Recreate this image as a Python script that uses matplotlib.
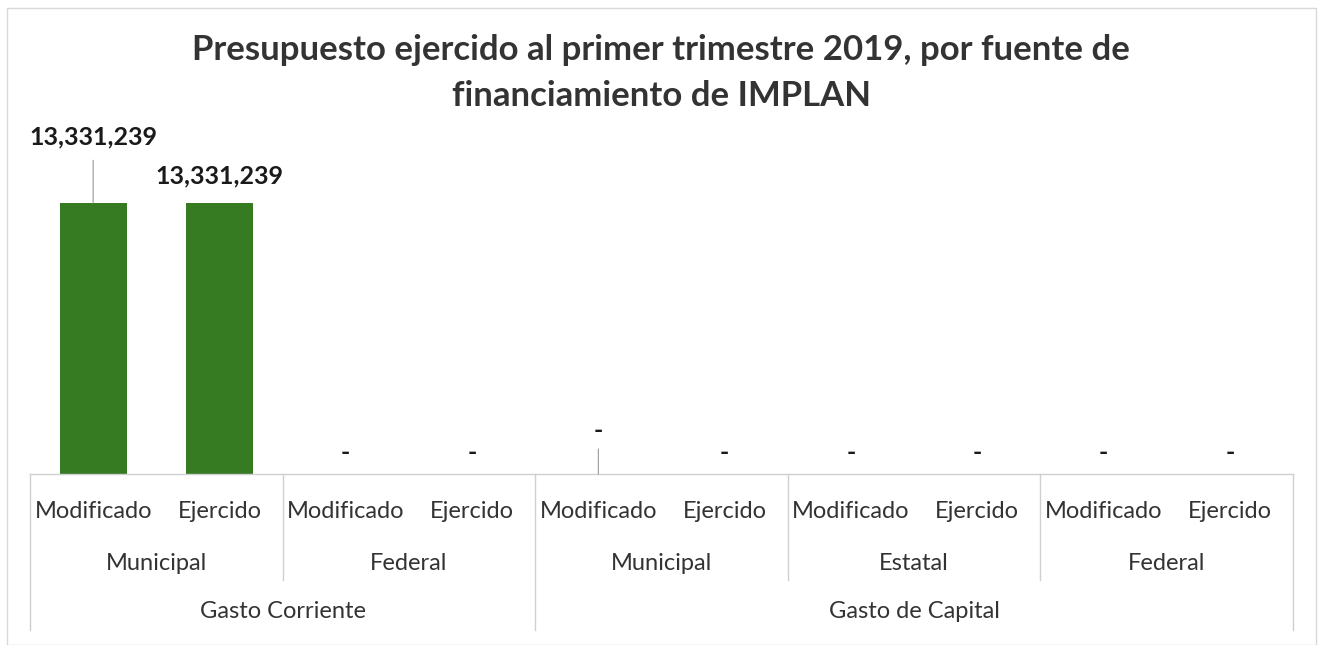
import matplotlib
matplotlib.use("Agg")
from matplotlib import pyplot as plt
from matplotlib.patches import Rectangle

# Datos del gráfico
tipos = ["Modificado", "Ejercido"] * 5
fuentes = ["Municipal", "Federal", "Municipal", "Estatal", "Federal"]
gastos = ["Gasto Corriente", "Gasto de Capital"]
fuentes_por_gasto = [2, 3]
valores = [13331239, 13331239, 0, 0, 0, 0, 0, 0, 0, 0]

plt.rcParams['font.family'] = ['Lato', 'DejaVu Sans']

W, H = 1322, 645
fig = plt.figure(figsize=(W / 100, H / 100), dpi=100)

# ejes en pixeles: izquierda 30, derecha 1293, base 474, tope 149
x0, x1, yb, yt = 30, 1293, 474, 149
ax = fig.add_axes([x0 / W, 1 - yb / H, (x1 - x0) / W, (yb - yt) / H])
alto = yb - yt

x = list(range(len(valores)))
ax.bar(x, valores, width=0.53, color='#367a22', zorder=2)
ax.set_xlim(-0.5, len(valores) - 0.5)
ax.set_ylim(0, 16e6)
ax.axis('off')

gris = '#d0d0d0'
trans = ax.get_xaxis_transform()
ax.plot([-0.5, len(valores) - 0.5], [0, 0], color=gris, lw=1, transform=trans, clip_on=False)

# etiquetas de datos
desfase = [66, 27, 22, 22, 43, 22, 22, 22, 22, 22]
for i, v in enumerate(valores):
    txt = f"{v:,}" if v else "-"
    ax.annotate(txt, (i, v), xytext=(0, desfase[i] * 0.72), textcoords='offset points',
                ha='center', va='center', fontsize=18, fontweight='bold', color='#1a1a1a',
                annotation_clip=False)
# líneas guía
ax.annotate("", (0, valores[0]), xytext=(0, 43 * 0.72), textcoords='offset points',
            arrowprops=dict(arrowstyle='-', color='#999999', lw=0.8, shrinkA=0, shrinkB=0))
ax.annotate("", (4, valores[4]), xytext=(0, 25 * 0.72), textcoords='offset points',
            arrowprops=dict(arrowstyle='-', color='#999999', lw=0.8, shrinkA=0, shrinkB=0))

# etiquetas de categorías (tres niveles)
r1, r2, r3 = -38 / alto, -89 / alto, -138 / alto
s1, s2 = -106 / alto, -156 / alto
for i, t in enumerate(tipos):
    ax.text(i, r1, t, transform=trans, ha='center', va='center', fontsize=17, color='#333333')
for j, f in enumerate(fuentes):
    ax.text(2 * j + 0.5, r2, f, transform=trans, ha='center', va='center', fontsize=17, color='#333333')

inicio = 0
bordes_gasto = [-0.5]
for g, n in zip(gastos, fuentes_por_gasto):
    centro = inicio + n - 0.5
    ax.text(centro, r3, g, transform=trans, ha='center', va='center', fontsize=17, color='#333333')
    inicio += 2 * n
    bordes_gasto.append(inicio - 0.5)

for j in range(len(fuentes) + 1):
    xb = 2 * j - 0.5
    fondo = s2 if xb in bordes_gasto else s1
    ax.plot([xb, xb], [0, fondo], color=gris, lw=1, transform=trans, clip_on=False)

fig.suptitle("Presupuesto ejercido al primer trimestre 2019, por fuente de\nfinanciamiento de IMPLAN",
             x=0.5, y=1 - 34 / H, va='top', fontsize=25, fontweight='bold', color='#333333',
             linespacing=1.55)

# marco exterior
fig.patches.append(Rectangle((7 / W, 0), (1316 - 7) / W, (641 - 4) / H + 0.0,
                             transform=fig.transFigure, fill=False, edgecolor='#d9d9d9', lw=1))

fig.savefig("out.png", dpi=100, facecolor='white')
